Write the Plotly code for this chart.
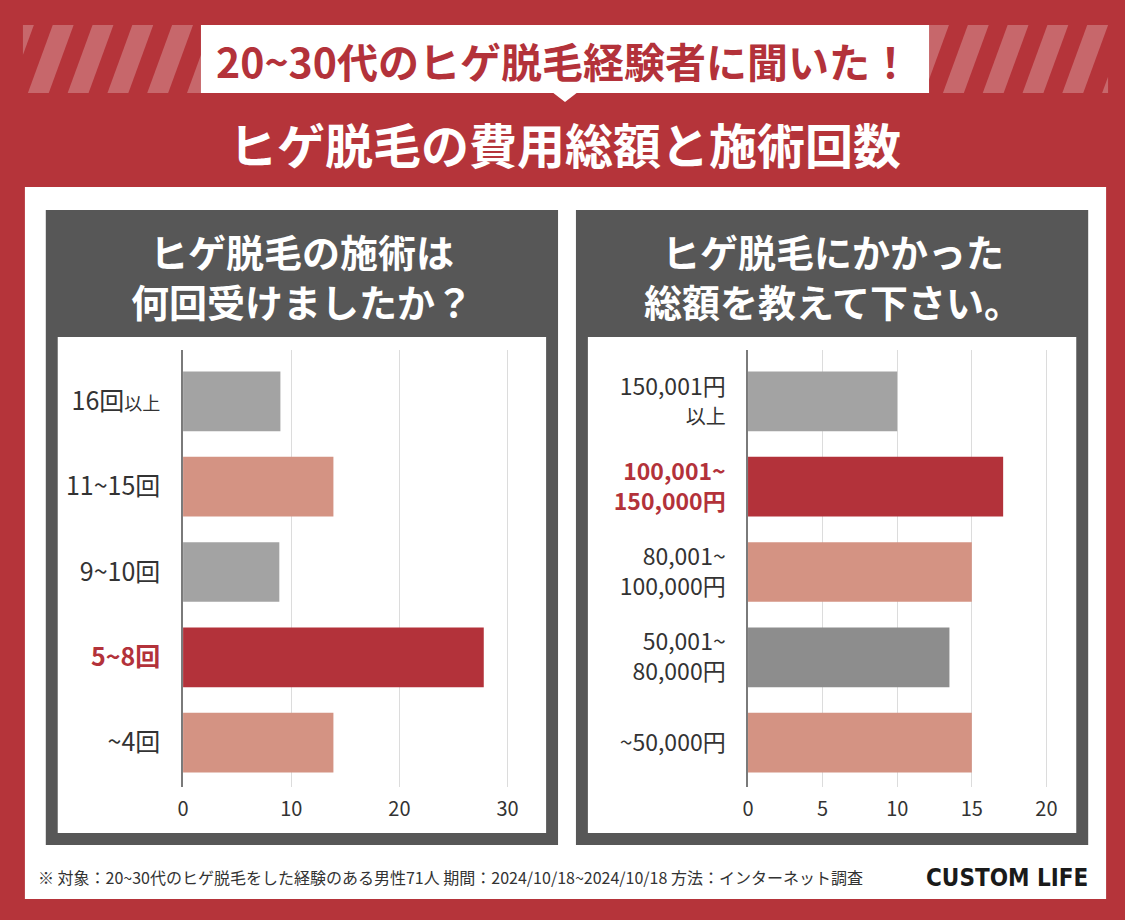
import plotly.graph_objects as go

W, H = 1125, 920

# ---------------- data ----------------
count_categories = ["16回以上", "11~15回", "9~10回", "5~8回", "~4回"]
count_values = [9.0, 13.9, 8.9, 27.8, 13.9]
count_ticktext = [
    "16回<span style='font-size:18px'>以上</span>",
    "11~15回",
    "9~10回",
    "<b><span style='color:#B3323A'>5~8回</span></b>",
    "~4回",
]
count_xticks = [0, 10, 20, 30]

cost_categories = ["150,001円以上", "100,001~150,000円", "80,001~100,000円",
                   "50,001~80,000円", "~50,000円"]
cost_values = [10.0, 17.1, 15.0, 13.5, 15.0]
cost_ticktext = [
    "150,001円<br><span style='font-size:20px'>以上</span>",
    "<b><span style='color:#B3323A'>100,001~<br>150,000円</span></b>",
    "80,001~<br>100,000円",
    "50,001~<br>80,000円",
    "~50,000円",
]
cost_xticks = [0, 5, 10, 15, 20]

# ---------------- styles ----------------
RED = "#B3323A"
SALMON = "#D49383"
GRAY = "#A3A3A3"
DGRAY = "#8D8D8D"
PANEL = "#575757"
BG = "#B5343A"
TXT = "#333333"
FONT = "Noto Sans CJK JP, Noto Sans, sans-serif"

count_colors = [GRAY, SALMON, GRAY, RED, SALMON]
cost_colors = [GRAY, RED, SALMON, DGRAY, SALMON]


def X(px):
    return px / W


def Y(py):
    return 1 - py / H


fig = go.Figure()

fig.add_trace(go.Bar(
    x=count_values, y=count_categories, orientation="h",
    marker=dict(color=count_colors, line=dict(width=0)),
    width=0.70, xaxis="x", yaxis="y", showlegend=False,
))
fig.add_trace(go.Bar(
    x=cost_values, y=cost_categories, orientation="h",
    marker=dict(color=cost_colors, line=dict(width=0)),
    width=0.70, xaxis="x2", yaxis="y2", showlegend=False,
))

ydom = [Y(787), Y(350)]
yrange = [4.521, -0.603]

common_x = dict(showgrid=True, gridcolor="#DCDCDC", gridwidth=1, zeroline=False,
                showline=False, ticks="", tickfont=dict(size=20, color=TXT, family=FONT),
                ticklabelstandoff=8, fixedrange=True)
common_y = dict(showline=True, linecolor="#7A7A7A", linewidth=1.5, showgrid=False,
                zeroline=False, ticks="", tickfont=dict(size=25, color=TXT, family=FONT),
                ticklabelstandoff=16, range=yrange, fixedrange=True)

fig.update_layout(
    width=W, height=H,
    margin=dict(l=0, r=0, t=0, b=0),
    paper_bgcolor=BG, plot_bgcolor="white",
    font=dict(family=FONT, color=TXT),
    xaxis=dict(domain=[X(178), X(526)], range=[0, 32], tickvals=count_xticks,
               anchor="y", **common_x),
    yaxis=dict(domain=ydom, anchor="x", tickvals=count_categories,
               ticktext=count_ticktext, **common_y),
    xaxis2=dict(domain=[X(746), X(1068.5)], range=[0, 21.5], tickvals=cost_xticks,
                anchor="y2", **common_x),
    yaxis2=dict(domain=ydom, anchor="x2", tickvals=cost_categories,
                ticktext=cost_ticktext, **dict(common_y, tickfont=dict(size=23, color=TXT, family=FONT))),
    bargap=0.3,
)

shapes = []


def rect(x0, y0, x1, y1, color):
    shapes.append(dict(type="rect", xref="paper", yref="paper",
                       x0=X(x0), x1=X(x1), y0=Y(y1), y1=Y(y0),
                       fillcolor=color, line=dict(width=0), layer="below"))


# diagonal stripes band
band_top, band_bot, band_l, band_r = 25, 93, 17, 1108
period, sw, shift = 40, 21, 25


def clip(poly, xmin, xmax):
    def clip_edge(pts, inside, inter):
        out = []
        n = len(pts)
        for i in range(n):
            cur, prev = pts[i], pts[i - 1]
            if inside(cur):
                if not inside(prev):
                    out.append(inter(prev, cur))
                out.append(cur)
            elif inside(prev):
                out.append(inter(prev, cur))
        return out

    def ix(xc):
        def f(a, b):
            t = (xc - a[0]) / (b[0] - a[0])
            return (xc, a[1] + t * (b[1] - a[1]))
        return f

    p = clip_edge(poly, lambda q: q[0] >= xmin, ix(xmin))
    if not p:
        return p
    p = clip_edge(p, lambda q: q[0] <= xmax, ix(xmax))
    return p


x0 = 22 - 2 * period
while x0 < band_r + period:
    poly = [(x0, band_bot), (x0 + sw, band_bot), (x0 + sw + shift, band_top), (x0 + shift, band_top)]
    cp = clip(poly, band_l, band_r)
    if len(cp) >= 3:
        path = "M " + " L ".join(f"{X(px):.5f},{Y(py):.5f}" for px, py in cp) + " Z"
        shapes.append(dict(type="path", xref="paper", yref="paper", path=path,
                           fillcolor="rgba(255,255,255,0.25)", line=dict(width=0), layer="below"))
    x0 += period

# callout
rect(196, 25, 928, 93, "white")
tri = [(549, 92), (575, 92), (562, 102)]
shapes.append(dict(type="path", xref="paper", yref="paper",
                   path="M " + " L ".join(f"{X(a):.5f},{Y(b):.5f}" for a, b in tri) + " Z",
                   fillcolor="white", line=dict(width=0), layer="below"))

# main white panel
rect(19, 187, 1106, 899, "white")
# dark panels and inner white areas
rect(40, 210, 555, 845, PANEL)
rect(573, 210, 1088, 845, PANEL)
rect(52, 337, 543, 833, "white")
rect(585, 337, 1076, 833, "white")

fig.update_layout(shapes=shapes)

ann = []


def text(t, x, y, size, color, xanchor="center", family=FONT):
    ann.append(dict(text=t, x=X(x), y=Y(y), xref="paper", yref="paper",
                    xanchor=xanchor, yanchor="middle", showarrow=False,
                    font=dict(size=size, color=color, family=family)))


text("<b>20~30代のヒゲ脱毛経験者に聞いた！</b>", 560, 60, 41, RED)
text("<b>ヒゲ脱毛の費用総額と施術回数</b>", 562, 143, 48, "white")
text("<b>ヒゲ脱毛の施術は</b>", 298, 250, 38, "white")
text("<b>何回受けましたか？</b>", 298, 300, 38, "white")
text("<b>ヒゲ脱毛にかかった</b>", 831, 250, 38, "white")
text("<b>総額を教えて下さい。</b>", 831, 300, 38, "white")
text("※ 対象：20~30代のヒゲ脱毛をした経験のある男性71人 期間：2024/10/18~2024/10/18 方法：インターネット調査",
     30, 877, 16, TXT, xanchor="left")
text("<b>CUSTOM LIFE</b>", 1090, 878, 24, "#1A1A1A", xanchor="right",
     family="Liberation Sans Narrow, DejaVu Sans Condensed, Roboto Condensed, Roboto, sans-serif")

fig.update_layout(annotations=ann)

fig.write_html("out.html", config={"displayModeBar": False},
               post_script="document.body.style.margin='0px';")
